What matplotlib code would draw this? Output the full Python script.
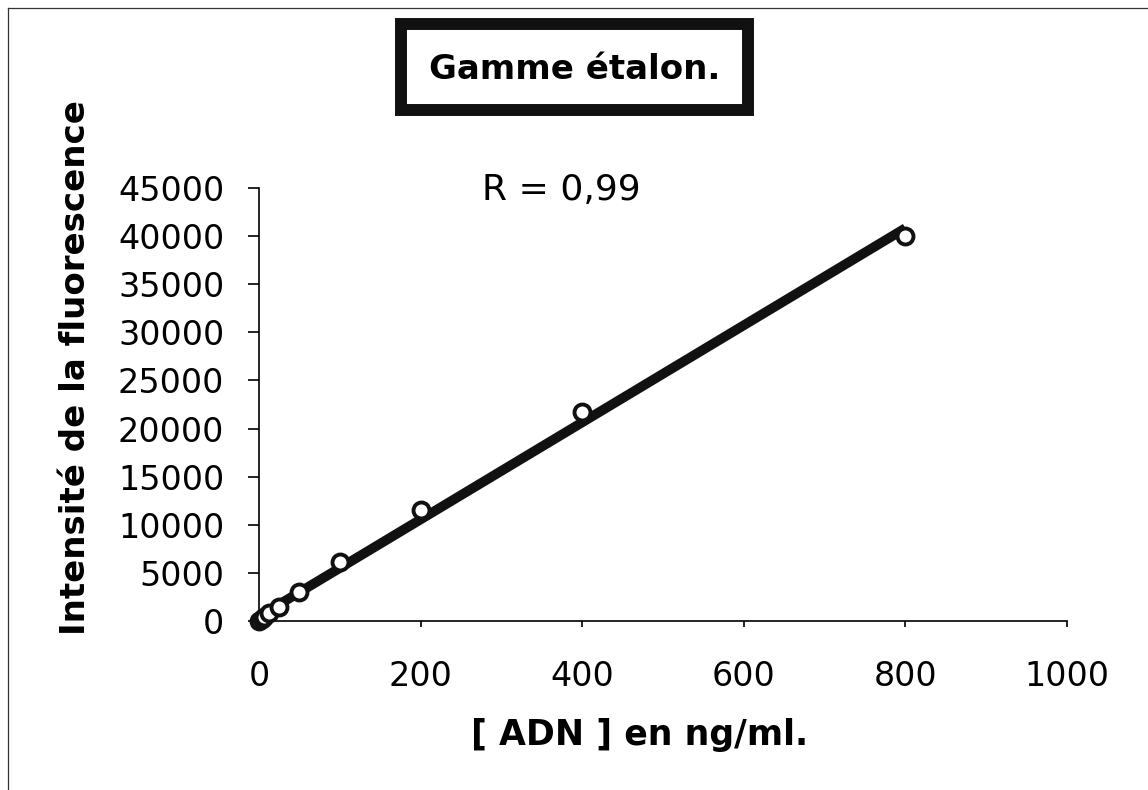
import numpy as np
import matplotlib
matplotlib.use("Agg")
import matplotlib.pyplot as plt
from matplotlib.patches import Rectangle
from matplotlib.lines import Line2D

plt.rcParams['font.family'] = ['DejaVu Sans']

# Data
conc = [0, 3.125, 6.25, 12.5, 25, 50, 100, 200, 400, 800]
fluo = [0, 200, 400, 800, 1500, 3000, 6100, 11500, 21700, 40000]
x_ticks = [0, 200, 400, 600, 800, 1000]
y_ticks = [0, 5000, 10000, 15000, 20000, 25000, 30000, 35000, 40000, 45000]
title = "Gamme étalon."
xlabel = "[ ADN ] en ng/ml."
ylabel = "Intensité de la fluorescence"
r_text = "R = 0,99"

W, H = 1148, 790
fig = plt.figure(figsize=(W / 100, H / 100), dpi=100)

def fx(px):
    return px / W

def fy(py):
    return 1 - py / H

ax = fig.add_axes([fx(259), fy(621), fx(1067) - fx(259), fy(188) - fy(621)])

# fit line
slope, intercept = np.polyfit(conc, fluo, 1)
xf = np.array([min(conc), max(conc)])
ax.plot(xf, slope * xf + intercept, color='#111111', lw=7, solid_capstyle='butt', zorder=2)
ax.plot(conc, fluo, linestyle='none', marker='o', markersize=11.5, markerfacecolor='white',
        markeredgecolor='#111111', markeredgewidth=2.8, zorder=3, clip_on=False)

ax.set_xlim(0, 1000)
ax.set_ylim(0, 45000)
ax.set_xticks(x_ticks)
ax.set_yticks(y_ticks)
ax.set_xticklabels([str(t) for t in x_ticks])
ax.set_yticklabels([str(t) for t in y_ticks])
for s in ['top', 'right']:
    ax.spines[s].set_visible(False)
ax.spines['left'].set_linewidth(1.2)
ax.spines['bottom'].set_linewidth(1.2)
ax.tick_params(axis='y', direction='out', length=8, width=1.2, pad=17, labelsize=24)
ax.tick_params(axis='x', direction='out', length=4, width=1.2, pad=24, labelsize=24)

ax.text(374, 44800, r_text, ha='center', va='center', fontsize=26)

# axis labels
fig.text(fx(640), fy(745), xlabel, ha='center', va='baseline', fontsize=25, fontweight='bold')
fig.text(fx(76), fy(368), ylabel, ha='center', va='center', rotation=90, fontsize=24.5, fontweight='bold')

# title box
fig.patches.append(Rectangle((fx(401), fy(110)), fx(748) - fx(401), fy(24) - fy(110),
                             transform=fig.transFigure, facecolor='white', edgecolor='#111111',
                             lw=8.6, zorder=5))
fig.text(fx(575), fy(79), title, ha='center', va='baseline', fontsize=24.5, fontweight='bold', zorder=6)

# outer frame (scanned border)
fig.lines.append(Line2D([fx(8), fx(8)], [fy(8), 0], transform=fig.transFigure, color='#333333', lw=0.9))
fig.lines.append(Line2D([fx(8), 1], [fy(8), fy(8)], transform=fig.transFigure, color='#333333', lw=0.9))

fig.savefig("out.png", dpi=100)
